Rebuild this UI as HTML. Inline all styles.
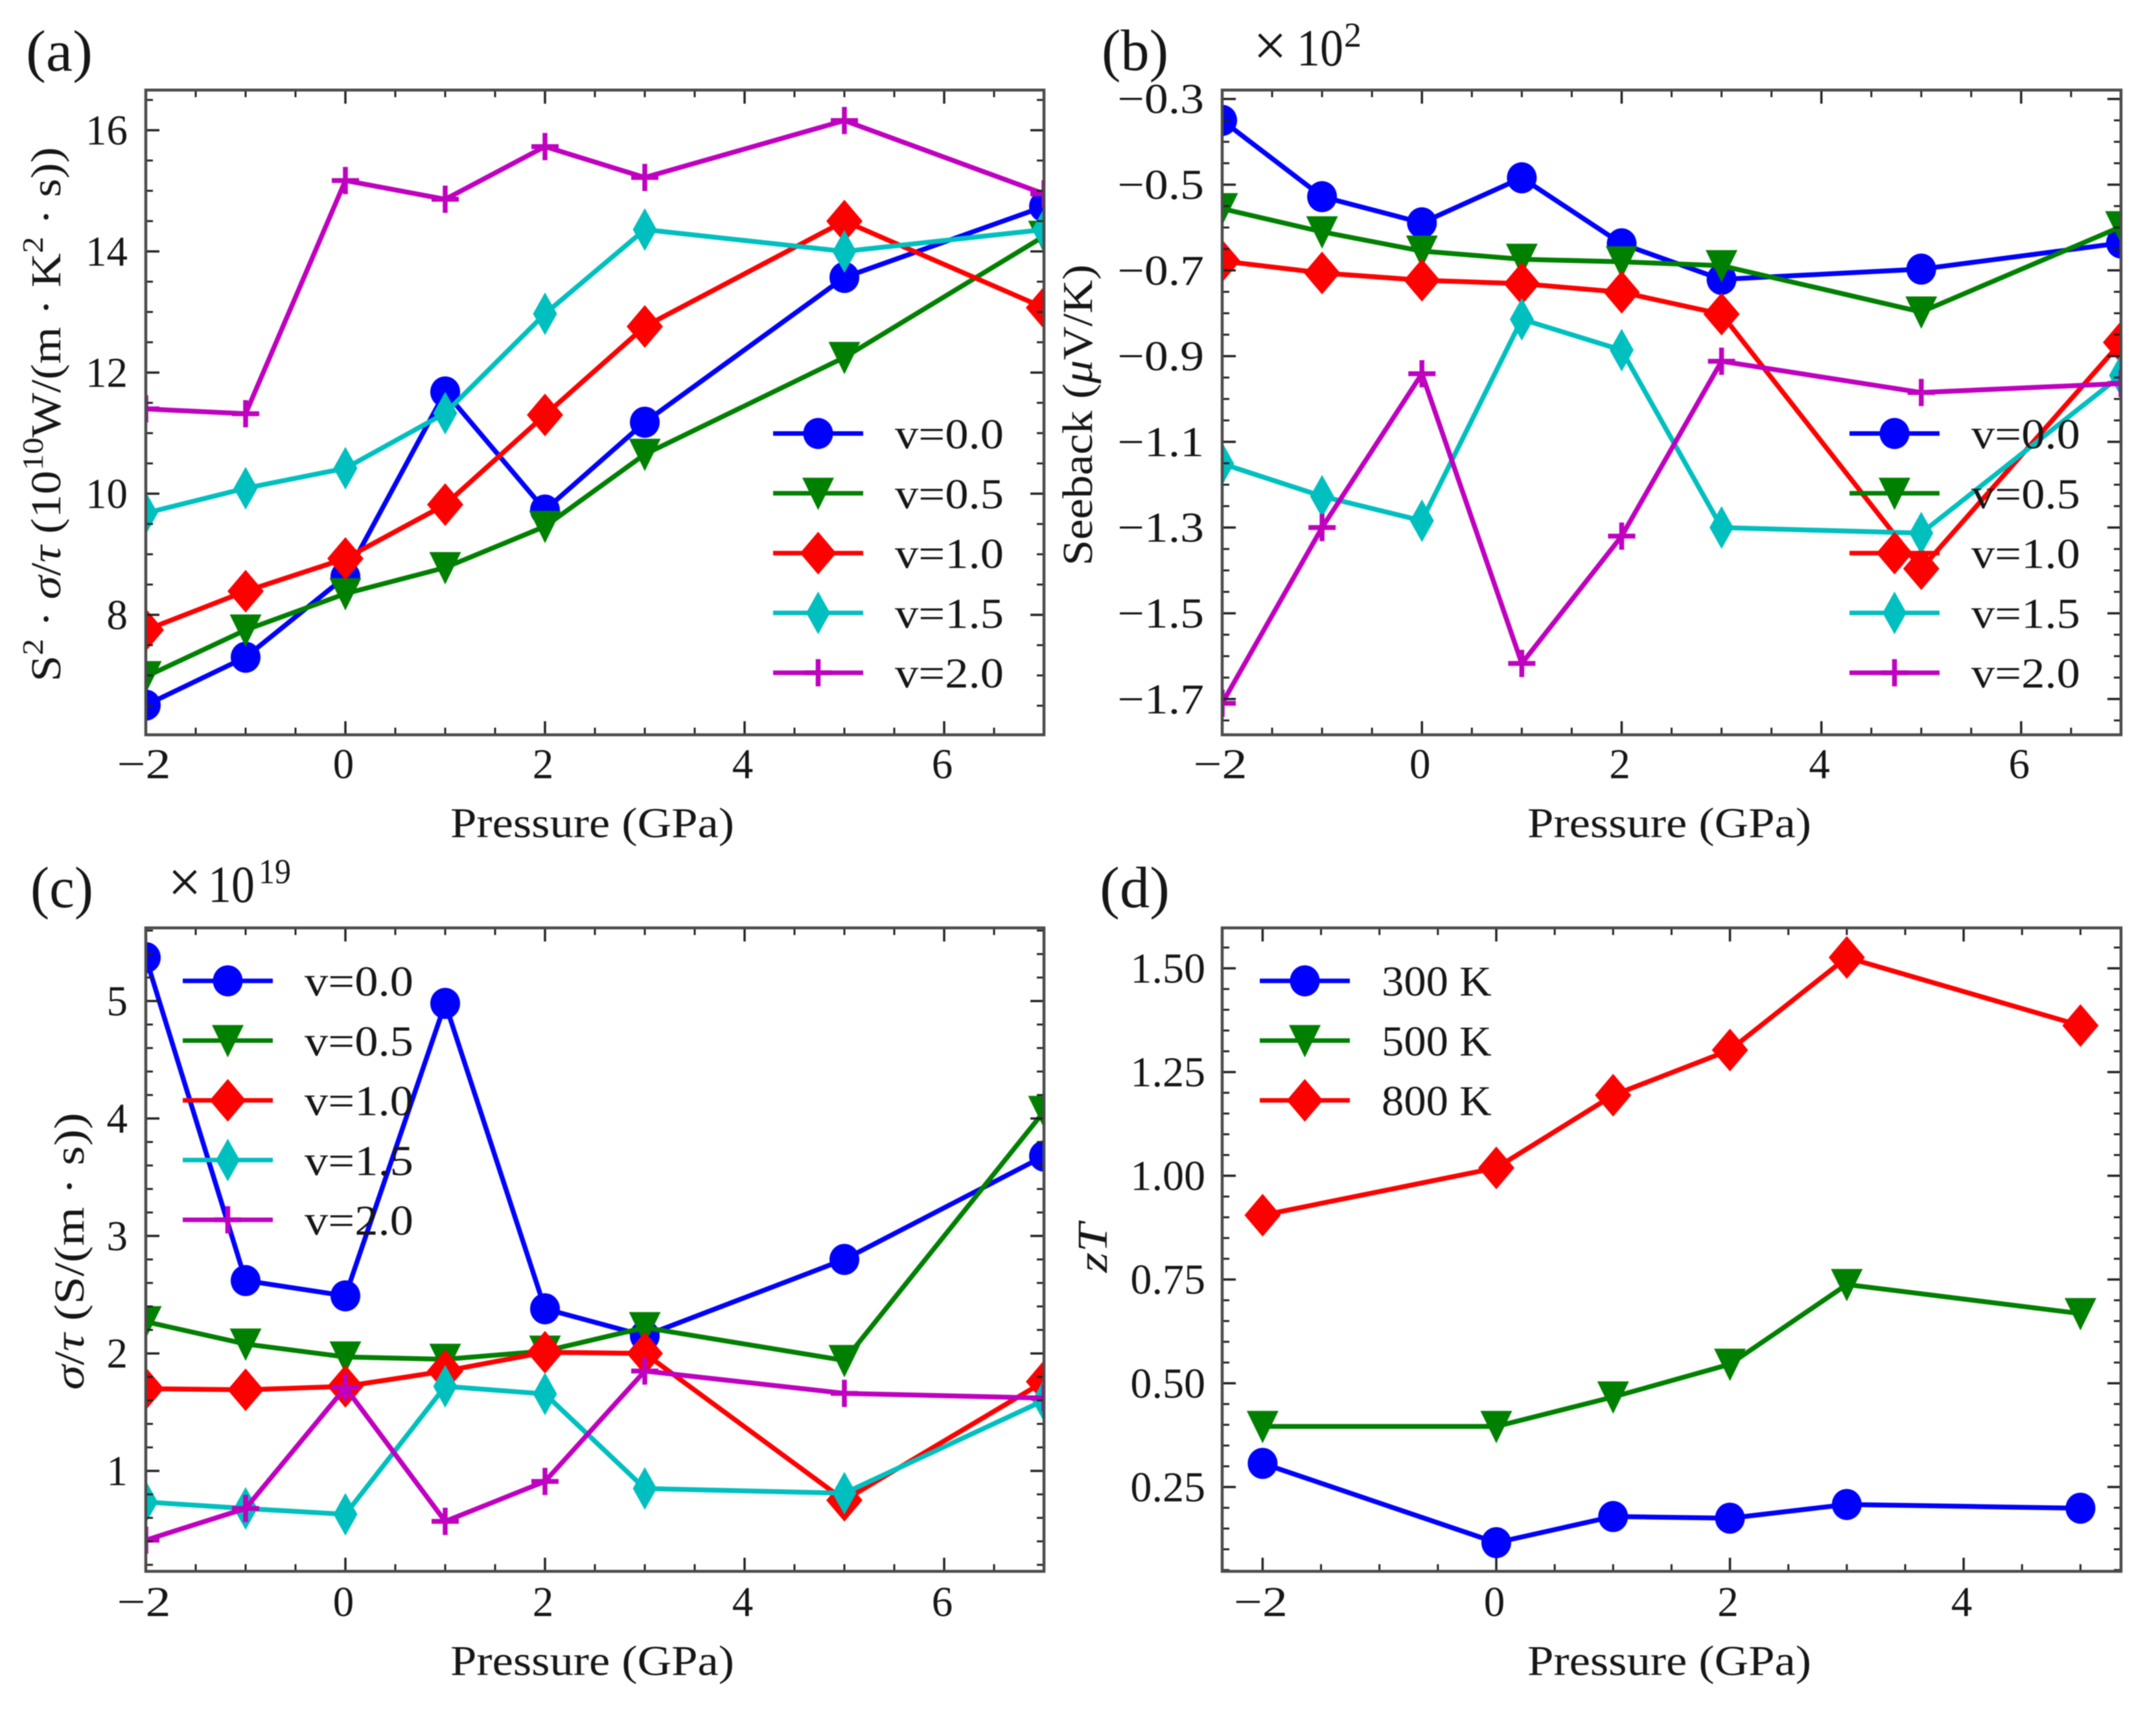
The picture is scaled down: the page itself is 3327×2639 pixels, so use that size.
<!DOCTYPE html>
<html lang="en">
<head>
<meta charset="utf-8">
<title>Thermoelectric properties versus pressure</title>
<style>
  html, body { margin: 0; padding: 0; background: #fff; }
  svg { display: block; font-family: "Liberation Serif", "DejaVu Serif", serif; fill: #111; filter: blur(0.8px); }
  text { fill: #161616; }
  .i { font-style: italic; }
</style>
</head>
<body>
<svg id="figure" xmlns="http://www.w3.org/2000/svg" width="3327" height="2639" viewBox="0 0 3327 2639">
  <defs>
    <clipPath id="clip-a"><rect x="225" y="139" width="1386" height="995"/></clipPath>
    <clipPath id="clip-b"><rect x="1886" y="139" width="1387" height="995"/></clipPath>
    <clipPath id="clip-c"><rect x="225" y="1432" width="1386" height="993"/></clipPath>
    <clipPath id="clip-d"><rect x="1886" y="1432" width="1387" height="993"/></clipPath>
  </defs>
  <rect x="0" y="0" width="3327" height="2639" fill="#fff"/>

  <g id="panel-a"></g>
  <g id="panel-b"></g>
  <g id="panel-c"></g>
  <g id="panel-d"></g>

  <text x="40" y="109" font-size="90" textLength="103" lengthAdjust="spacingAndGlyphs">(a)</text>
  <text x="1700" y="108" font-size="90" textLength="103" lengthAdjust="spacingAndGlyphs">(b)</text>
  <text x="47" y="1400" font-size="90" textLength="97" lengthAdjust="spacingAndGlyphs">(c)</text>
  <text x="1697" y="1400" font-size="90" textLength="108" lengthAdjust="spacingAndGlyphs">(d)</text>

  <text x="1934" y="101" font-size="92">×</text>
  <text x="2001" y="101" font-size="80" textLength="72" lengthAdjust="spacingAndGlyphs">10</text>
  <text x="2074" y="72" font-size="54">2</text>
  <text x="259" y="1392" font-size="92">×</text>
  <text x="321" y="1392" font-size="80" textLength="72" lengthAdjust="spacingAndGlyphs">10</text>
  <text x="399" y="1363" font-size="54" textLength="50" lengthAdjust="spacingAndGlyphs">19</text>

  <text x="695" y="1292" font-size="66" textLength="438" lengthAdjust="spacingAndGlyphs">Pressure (GPa)</text>
  <text x="2357" y="1292" font-size="66" textLength="438" lengthAdjust="spacingAndGlyphs">Pressure (GPa)</text>
  <text x="695" y="2585" font-size="66" textLength="438" lengthAdjust="spacingAndGlyphs">Pressure (GPa)</text>
  <text x="2357" y="2585" font-size="66" textLength="438" lengthAdjust="spacingAndGlyphs">Pressure (GPa)</text>

  <text transform="translate(93,1052) rotate(-90)" font-size="66" textLength="825" lengthAdjust="spacingAndGlyphs">S<tspan dy="-27" font-size="46">2</tspan><tspan dy="27"> · </tspan><tspan class="i">σ</tspan>/<tspan class="i">τ</tspan>  (10<tspan dy="-27" font-size="46">10</tspan><tspan dy="27">W/(m · K</tspan><tspan dy="-27" font-size="46">2</tspan><tspan dy="27"> · s))</tspan></text>
  <text transform="translate(1685,873) rotate(-90)" font-size="66" textLength="465" lengthAdjust="spacingAndGlyphs">Seeback (<tspan class="i">μ</tspan>V/K)</text>
  <text transform="translate(129,2145) rotate(-90)" font-size="66" textLength="428" lengthAdjust="spacingAndGlyphs"><tspan class="i">σ</tspan>/<tspan class="i">τ</tspan> (S/(m · s))</text>
  <text transform="translate(1708,1964) rotate(-90)" font-size="66" class="i" textLength="76" lengthAdjust="spacingAndGlyphs">zT</text>
</svg>

<script>
// ---- data ----
const pressures = [-2, -1, 0, 1, 2, 3, 5, 7];
const pressuresZT = [-2, 0, 1, 2, 3, 5];

const powerV00 = [6.51, 7.30, 8.63, 11.68, 9.73, 11.18, 13.57, 14.74];
const powerV05 = [6.98, 7.75, 8.35, 8.78, 9.46, 10.65, 12.25, 14.25];
const powerV10 = [7.75, 8.39, 8.93, 9.82, 11.30, 12.76, 14.50, 13.07];
const powerV15 = [9.68, 10.09, 10.42, 11.33, 12.97, 14.36, 14.00, 14.36];
const powerV20 = [11.40, 11.32, 15.17, 14.86, 15.73, 15.22, 16.16, 14.95];

const seebeckV00 = [-0.350, -0.528, -0.589, -0.484, -0.638, -0.721, -0.697, -0.636];
const seebeckV05 = [-0.556, -0.610, -0.655, -0.674, -0.680, -0.689, -0.797, -0.598];
const seebeckV10 = [-0.678, -0.706, -0.723, -0.731, -0.751, -0.802, -1.396, -0.868];
const seebeckV15 = [-1.151, -1.227, -1.284, -0.814, -0.886, -1.300, -1.313, -0.945];
const seebeckV20 = [-1.710, -1.300, -0.941, -1.617, -1.320, -0.912, -0.985, -0.964];

const condV00 = [5.37, 2.62, 2.49, 4.98, 2.38, 2.15, 2.80, 3.68];
const condV05 = [2.27, 2.08, 1.97, 1.95, 2.02, 2.22, 1.94, 4.06];
const condV10 = [1.70, 1.69, 1.72, 1.85, 2.01, 2.00, 0.75, 1.76];
const condV15 = [0.735, 0.68, 0.63, 1.72, 1.655, 0.85, 0.81, 1.60];
const condV20 = [0.41, 0.68, 1.71, 0.57, 0.91, 1.85, 1.66, 1.62];

const zt300 = [0.307, 0.116, 0.179, 0.175, 0.208, 0.199];
const zt500 = [0.396, 0.396, 0.467, 0.546, 0.738, 0.668];
const zt800 = [0.905, 1.019, 1.194, 1.303, 1.526, 1.362];

const pressureTicks = [-2, 0, 2, 4, 6];
const pressureTicksZT = [-2, 0, 2, 4];
const powerTicks = [8, 10, 12, 14, 16];
const seebeckTicks = [-0.3, -0.5, -0.7, -0.9, -1.1, -1.3, -1.5, -1.7];
const condTicks = [1, 2, 3, 4, 5];
const ztTicks = [0.25, 0.5, 0.75, 1.0, 1.25, 1.5];

const voltageLabels = ['v=0.0', 'v=0.5', 'v=1.0', 'v=1.5', 'v=2.0'];
const temperatureLabels = ['300 K', '500 K', '800 K'];

// ---- styling ----
const SVGNS = 'http://www.w3.org/2000/svg';
const styleOrder = [
  { color: '#0000ff', marker: 'circle' },
  { color: '#008000', marker: 'triangle' },
  { color: '#ff0000', marker: 'diamond' },
  { color: '#00bfbf', marker: 'thin' },
  { color: '#bf00bf', marker: 'plus' }
];
const charWidths = { '.': 0.278, '\u2212': 0.778, '=': 0.778, 'v': 0.528, ' ': 0.333, 'K': 0.778 };

function measure(str) {
  let w = 0;
  for (const ch of str) w += (charWidths[ch] !== undefined ? charWidths[ch] : 0.5);
  return w * 65;
}
function svgEl(tag) { return document.createElementNS(SVGNS, tag); }
function setAll(el, attrs) { for (const k in attrs) el.setAttribute(k, attrs[k]); return el; }
function scale(d0, d1, r0, r1) { return function (v) { return r0 + (v - d0) * (r1 - r0) / (d1 - d0); }; }

function drawMarker(parent, kind, color, cx, cy) {
  let m;
  if (kind === 'circle') {
    m = setAll(svgEl('ellipse'), { cx: cx, cy: cy, rx: 23, ry: 24, fill: color });
  } else if (kind === 'triangle') {
    m = setAll(svgEl('polygon'), { points: (cx - 24.5) + ',' + (cy - 24) + ' ' + (cx + 24.5) + ',' + (cy - 24) + ' ' + cx + ',' + (cy + 26), fill: color });
  } else if (kind === 'diamond') {
    m = setAll(svgEl('polygon'), { points: cx + ',' + (cy - 33) + ' ' + (cx + 28) + ',' + cy + ' ' + cx + ',' + (cy + 33) + ' ' + (cx - 28) + ',' + cy, fill: color });
  } else if (kind === 'thin') {
    m = setAll(svgEl('polygon'), { points: cx + ',' + (cy - 33) + ' ' + (cx + 18.5) + ',' + cy + ' ' + cx + ',' + (cy + 33) + ' ' + (cx - 18.5) + ',' + cy, fill: color });
  } else {
    m = setAll(svgEl('path'), { d: 'M' + (cx - 21) + ' ' + cy + 'H' + (cx + 21) + 'M' + cx + ' ' + (cy - 21) + 'V' + (cy + 21), stroke: color, 'stroke-width': 7.5, fill: 'none' });
  }
  
  
  parent.appendChild(m);
}

function drawPanel(cfg) {
  const root = document.getElementById(cfg.id);
  const X = scale(cfg.xDomain[0], cfg.xDomain[1], cfg.left, cfg.right);
  const Y = scale(cfg.yDomain[0], cfg.yDomain[1], cfg.bottom, cfg.top);

  // series
  const plot = svgEl('g');
  plot.setAttribute('clip-path', 'url(#' + cfg.clip + ')');
  
  
  root.appendChild(plot);

  cfg.series.forEach(function (values, s) {
    const st = styleOrder[s];
    const group = svgEl('g');
    
    
    plot.appendChild(group);
    const pts = values.map(function (v, i) { return X(cfg.xs[i]) + ',' + Y(v); }).join(' ');
    const line = setAll(svgEl('polyline'), { points: pts, fill: 'none', stroke: st.color, 'stroke-width': 7.5, 'stroke-linejoin': 'miter' });
    
    
    group.appendChild(line);
    values.forEach(function (v, i) { drawMarker(group, st.marker, st.color, X(cfg.xs[i]), Y(v)); });
  });

  // ticks
  const ticks = svgEl('g');
  
  
  root.appendChild(ticks);
  function tickPath(x1, y1, x2, y2, major) {
    const t = setAll(svgEl('line'), { x1: x1, y1: y1, x2: x2, y2: y2, stroke: '#222', 'stroke-width': major ? 3.5 : 3 });
    
    
    ticks.appendChild(t);
  }
  const nx = Math.round((cfg.xDomain[1] - cfg.xDomain[0]) / 0.5);
  for (let i = -1; i <= nx + 1; i++) {
    const v = Math.ceil(cfg.xDomain[0] * 2) / 2 + i * 0.5;
    if (v <= cfg.xDomain[0] + 0.01 || v >= cfg.xDomain[1] - 0.01) continue;
    const major = cfg.xTicks.indexOf(v) >= 0;
    const len = major ? 21 : 11;
    tickPath(X(v), cfg.top, X(v), cfg.top + len, major);
    tickPath(X(v), cfg.bottom, X(v), cfg.bottom - len, major);
  }
  const ny = Math.round((cfg.yDomain[1] - cfg.yDomain[0]) / cfg.yMinor);
  const start = Math.ceil(cfg.yDomain[0] / cfg.yMinor);
  for (let i = 0; i <= ny; i++) {
    const v = (start + i) * cfg.yMinor;
    if (v <= cfg.yDomain[0] || v >= cfg.yDomain[1]) continue;
    const major = cfg.yTicks.some(function (t) { return Math.abs(t - v) < 1e-6; });
    const len = major ? 21 : 11;
    tickPath(cfg.left, Y(v), cfg.left + len, Y(v), major);
    tickPath(cfg.right, Y(v), cfg.right - len, Y(v), major);
  }

  // frame
  const frame = setAll(svgEl('rect'), { x: cfg.left, y: cfg.top, width: cfg.right - cfg.left, height: cfg.bottom - cfg.top, fill: 'none', stroke: '#4a4a4a', 'stroke-width': 4.5 });
  
  
  root.appendChild(frame);

  // tick labels
  cfg.xTicks.forEach(function (v) {
    const str = (v < 0 ? '\u2212' : '') + Math.abs(v);
    const t = setAll(svgEl('text'), { x: X(v) - 3, y: cfg.xLabelY, 'font-size': 66, 'text-anchor': 'middle', textLength: measure(str), lengthAdjust: 'spacingAndGlyphs' });
    t.textContent = str;
    
    
    root.appendChild(t);
  });
  cfg.yTicks.forEach(function (v) {
    const str = (v < 0 ? '\u2212' : '') + Math.abs(v).toFixed(cfg.yDigits);
    const t = setAll(svgEl('text'), { x: cfg.yLabelX, y: Y(v) + 22, 'font-size': 66, 'text-anchor': 'end', textLength: measure(str), lengthAdjust: 'spacingAndGlyphs' });
    t.textContent = str;
    
    
    root.appendChild(t);
  });

  // legend
  const legend = svgEl('g');
  
  
  root.appendChild(legend);
  cfg.labels.forEach(function (label, i) {
    const st = styleOrder[i];
    const y = cfg.legendY + i * cfg.legendStep;
    const entry = svgEl('g');
    
    
    legend.appendChild(entry);
    const h = setAll(svgEl('line'), { x1: cfg.legendX, x2: cfg.legendX + 139, y1: y, y2: y, stroke: st.color, 'stroke-width': 7 });
    
    
    entry.appendChild(h);
    drawMarker(entry, st.marker, st.color, cfg.legendX + 69.5, y);
    const t = setAll(svgEl('text'), { x: cfg.legendX + 188, y: y + 23, 'font-size': 66, textLength: measure(label), lengthAdjust: 'spacingAndGlyphs' });
    t.textContent = label;
    
    
    entry.appendChild(t);
  });
}

// Axis limits derive from tick calibration; pixel box is per panel.
drawPanel({
  id: 'panel-a', clip: 'clip-a', left: 225, right: 1611, top: 139, bottom: 1134,
  xDomain: [-2, 7], yDomain: [6.02, 16.663], yMinor: 0.5, yDigits: 0, yLabelX: 197, xLabelY: 1201,
  xs: pressures, xTicks: pressureTicks, yTicks: powerTicks,
  series: [powerV00, powerV05, powerV10, powerV15, powerV20],
  labels: voltageLabels, legendX: 1193, legendY: 669, legendStep: 92.3
});
drawPanel({
  id: 'panel-b', clip: 'clip-b', left: 1886, right: 3273, top: 139, bottom: 1134,
  xDomain: [-2, 7], yDomain: [-1.7835, -0.2793], yMinor: 0.05, yDigits: 1, yLabelX: 1858, xLabelY: 1201,
  xs: pressures, xTicks: pressureTicks, yTicks: seebeckTicks,
  series: [seebeckV00, seebeckV05, seebeckV10, seebeckV15, seebeckV20],
  labels: voltageLabels, legendX: 2854, legendY: 669, legendStep: 92.3
});
drawPanel({
  id: 'panel-c', clip: 'clip-c', left: 225, right: 1611, top: 1432, bottom: 2425,
  xDomain: [-2, 7], yDomain: [0.1447, 5.6228], yMinor: 0.2, yDigits: 0, yLabelX: 197, xLabelY: 2494,
  xs: pressures, xTicks: pressureTicks, yTicks: condTicks,
  series: [condV00, condV05, condV10, condV15, condV20],
  labels: voltageLabels, legendX: 282, legendY: 1513.7, legendStep: 92.2
});
drawPanel({
  id: 'panel-d', clip: 'clip-d', left: 1886, right: 3273, top: 1432, bottom: 2425,
  xDomain: [-2.346, 5.347], yDomain: [0.0469, 1.5973], yMinor: 0.05, yDigits: 2, yLabelX: 1860, xLabelY: 2494,
  xs: pressuresZT, xTicks: pressureTicksZT, yTicks: ztTicks,
  series: [zt300, zt500, zt800],
  labels: temperatureLabels, legendX: 1944, legendY: 1513.7, legendStep: 92.2
});
</script>
</body>
</html>
